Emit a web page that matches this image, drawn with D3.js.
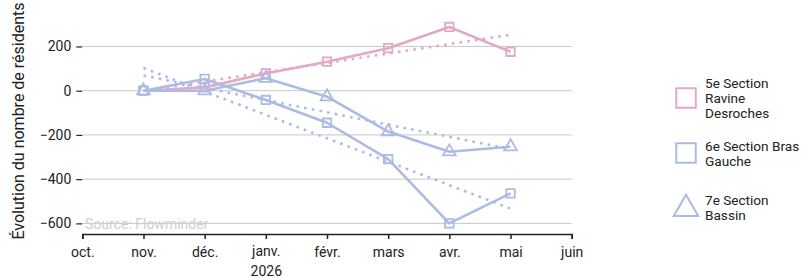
<!DOCTYPE html>
<html>
<head>
<meta charset="utf-8">
<script src="https://cdn.jsdelivr.net/npm/d3@7"></script>
<style>
  body { margin: 0; background: #fff; }
  svg { display: block; font-family: Roboto, "Noto Sans", sans-serif; }
</style>
</head>
<body>
<svg></svg>
<script>
// Chart size
const width = 810, height = 278;

// Months on the x axis (equal spacing, as in the original)
const months = ["oct.", "nov.", "déc.", "janv.", "févr.", "mars", "avr.", "mai", "juin"];
const monthYears = ["", "", "", "2026", "", "", "", "", ""];
const dataMonths = ["nov.", "déc.", "janv.", "févr.", "mars", "avr.", "mai"];

// Change in number of residents, per section
const ravine = [0, 15, 78, 131, 192, 288, 176];
const brasGauche = [0, 53, -42, -145, -309, -600, -464];
const bassin = [0, 0, 56, -27, -185, -276, -253];

const yTicks = [-600, -400, -200, 0, 200];

const pink = "#e2a9c6", blue = "#abbbe4";

const series = [
  { name: ["5e Section", "Ravine", "Desroches"], values: ravine, color: pink, symbol: "square" },
  { name: ["6e Section Bras", "Gauche"], values: brasGauche, color: blue, symbol: "square" },
  { name: ["7e Section", "Bassin"], values: bassin, color: blue, symbol: "triangle" }
];

const svg = d3.select("svg")
  .attr("width", width)
  .attr("height", height);

// Scales
const x = d3.scalePoint().domain(months).range([82.3, 571.7]);
const y = d3.scaleLinear().domain([-648, 410]).range([234, 0]);

// Gridlines + y ticks
const yAxis = svg.append("g")
  .attr("transform", "translate(82.3,0)")
  .call(d3.axisLeft(y).tickValues(yTicks).tickSize(6).tickPadding(5));
yAxis.select(".domain").remove();
yAxis.selectAll(".tick line").attr("stroke", "#222").attr("stroke-width", 1.2);
yAxis.selectAll(".tick text").attr("font-size", 14).attr("fill", "#222")
  .attr("font-family", "Roboto, sans-serif");

svg.append("g")
  .selectAll("line")
  .data(yTicks)
  .join("line")
  .attr("x1", 83).attr("x2", 571.7)
  .attr("y1", d => y(d)).attr("y2", d => y(d))
  .attr("stroke", "#c8c8c8").attr("stroke-width", 1);

// Source note
svg.append("text")
  .attr("x", 85).attr("y", 229)
  .attr("font-size", 14)
  .attr("fill", "#cfcfcf")
  .text("Source: Flowminder");

// x axis
const xAxis = svg.append("g")
  .attr("transform", "translate(0,234)")
  .call(d3.axisBottom(x).tickSize(5).tickPadding(8));
xAxis.select(".domain").attr("stroke", "#222").attr("stroke-width", 1.6);
xAxis.selectAll(".tick line").attr("stroke", "#222").attr("stroke-width", 1.5);
xAxis.selectAll(".tick text")
  .attr("font-size", 14).attr("fill", "#222").attr("font-family", "Roboto, sans-serif")
  .each(function(d, i) {
    if (monthYears[i]) {
      d3.select(this).attr("y", 12);
      d3.select(this.parentNode).append("text")
        .attr("y", 42)
        .attr("fill", "#222").attr("font-size", 14)
        .attr("font-family", "Roboto, sans-serif")
        .attr("text-anchor", "middle")
        .text(monthYears[i]);
    }
  });

// y axis label
svg.append("text")
  .attr("transform", "translate(24,121) rotate(-90)")
  .attr("text-anchor", "middle")
  .attr("font-size", 16)
  .attr("fill", "#222")
  .text("Évolution du nombre de résidents");

// Linear trend of each series
function trend(values) {
  const xs = values.map((v, i) => i);
  const mx = d3.mean(xs), my = d3.mean(values);
  const slope = d3.sum(xs, (xi, i) => (xi - mx) * (values[i] - my)) / d3.sum(xs, xi => (xi - mx) ** 2);
  return values.map((v, i) => my + slope * (i - mx));
}

const line = d3.line()
  .x((d, i) => x(dataMonths[i]))
  .y(d => y(d));

// dotted trend lines
svg.append("g")
  .selectAll("path")
  .data(series)
  .join("path")
  .attr("d", s => line(trend(s.values)))
  .attr("fill", "none")
  .attr("stroke", s => s.color)
  .attr("stroke-width", 2.6)
  .attr("stroke-dasharray", "2.6,5.2");

// solid lines + markers
const symSquare = d3.symbol().type(d3.symbolSquare);
const symTri = d3.symbol().type(d3.symbolTriangle);

series.forEach(s => {
  const g = svg.append("g");
  g.append("path")
    .attr("d", line(s.values))
    .attr("fill", "none")
    .attr("stroke", s.color)
    .attr("stroke-width", 2.6)
    .attr("stroke-linejoin", "round");

  g.selectAll(".mk")
    .data(s.values)
    .join("path")
    .attr("class", "mk")
    .attr("transform", (d, i) => `translate(${x(dataMonths[i])},${y(d)})`)
    .attr("d", s.symbol === "square" ? symSquare.size(72)() : symTri.size(70)())
    .attr("fill", "none")
    .attr("stroke", s.color)
    .attr("stroke-width", 1.8);
});

// Legend
const legendY = [98, 153, 207];
const legend = svg.append("g");
series.forEach((s, i) => {
  const item = legend.append("g").attr("transform", `translate(686,${legendY[i]})`);
  item.append("path")
    .attr("d", s.symbol === "square" ? symSquare.size(380)() : symTri.size(260)())
    .attr("transform", s.symbol === "triangle" ? "translate(0,2)" : null)
    .attr("fill", "none")
    .attr("stroke", s.color)
    .attr("stroke-width", 2);
  const n = s.name.length;
  item.selectAll("text")
    .data(s.name)
    .join("text")
    .attr("x", 19)
    .attr("y", (d, k) => (k - (n - 1) / 2) * 15 + 5)
    .attr("font-size", 13.6)
    .attr("fill", "#222")
    .text(d => d);
});
</script>
</body>
</html>
